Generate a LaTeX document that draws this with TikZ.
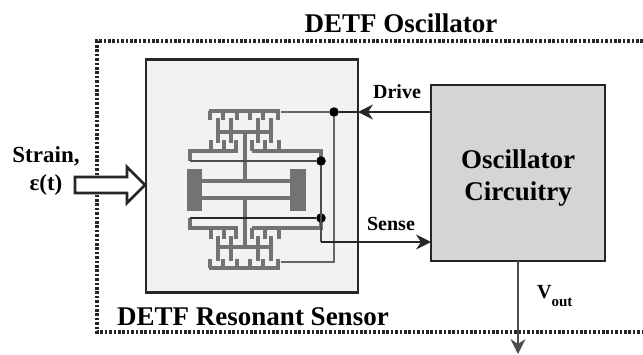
\documentclass[tikz,border=0pt]{standalone}
\usepackage{fontspec}
\setmainfont{Liberation Serif}
\usetikzlibrary{arrows.meta}
\tikzset{
    box/.style = {draw = black!85, line width = 2.7pt, inner sep = 0pt, outer sep = 0pt},
    wire/.style = {draw = black!85, line width = 1.8pt},
    comb/.style = {draw = black!55, line width = 3.2pt},
    tip/.style = {-{Stealth[length = 15pt, width = 15pt, inset = 5pt]}},
    dot/.style = {circle, fill = black, inner sep = 0pt, minimum size = 9.5pt},
    big/.style = {font = \bfseries\fontsize{27}{32}\selectfont, inner sep = 0pt},
    small/.style = {font = \bfseries\fontsize{20}{24}\selectfont, inner sep = 0pt}
}
\begin{document}
\begin{tikzpicture}[x = 1pt, y = -1pt]
    \useasboundingbox (0,0) rectangle (643,354);
    \draw [line width = 3.2pt, black!85, dash pattern = on 2.6pt off 1.8pt] (643,41) -- (97,41) -- (97,332) -- (643,332);

    \node [box, fill = gray!10, minimum width = 212pt, minimum height = 233pt] (sensor) at (252,176) {};
    \node [box, fill = gray!33, minimum width = 174pt, minimum height = 176pt] (circuit) at (518,173) {};
    \node [big, align = center, yshift = -5pt] (circuitlabel) at (circuit.center) {Oscillator\\Circuitry};

    %the two halves are the same, only flipped around the beams
    \foreach \m in {1, -1}{
        \begin{scope}[shift = {(0,189.5)}, yscale = \m]
            \draw [comb] (209,-78.5) -- (280,-78.5);
            \foreach \x in {210, 223, 237, 250, 263, 278}{
                \draw [comb] (\x,-78.5) -- (\x,-69.5);
            }
            \draw [comb] (217,-57.5) -- (272,-57.5);
            \foreach \x in {218, 231, 258, 271}{
                \draw [comb] (\x,-71.5) -- (\x,-46.5);
            }
            \foreach \x in {211, 224, 236, 252, 265, 279}{
                \draw [comb] (\x,-38.5) -- (\x,-49.5);
            }
            \draw [comb, line width = 4pt] (245,-57.5) -- (245,-8.5);
            \draw [comb, line width = 4pt] (202,-8.5) -- (290,-8.5);
            \draw [comb] (238,-38.5) -- (190,-38.5) -- (190,-28.5);
            \draw [comb] (252,-38.5) -- (321,-38.5) -- (321,-28.5);
        \end{scope}
    }
    \fill [black!55] (187,169) rectangle (202,211);
    \fill [black!55] (290,169) rectangle (306,211);

    \coordinate (combtop) at (281,112);
    \coordinate (combbottom) at (281,262);
    \coordinate (upperleft) at (190,161);
    \coordinate (lowerleft) at (190,218);
    \coordinate (sensecorner) at (321,242);
    \coordinate (voutend) at (518,354);
    \node [dot] (drivedot) at (334,112) {};
    \node [dot] (upperdot) at (321,161) {};
    \node [dot] (lowerdot) at (321,218) {};

    \draw [wire, black!60] (combtop) -- (drivedot) -- (drivedot |- combbottom) -- (combbottom);
    \draw [wire, black!70] (upperleft) -- (upperdot);
    \draw [wire, line width = 2.4pt] (lowerleft) -- (lowerdot);
    \draw [wire, black!70] (upperdot) -- (sensecorner);
    \draw [wire, tip] (circuit.west |- drivedot) -- (sensor.east |- drivedot);
    \draw [wire] (sensor.east |- drivedot) -- (drivedot);
    \draw [wire, tip] (sensecorner) -- (circuit.west |- sensecorner);
    \draw [wire, black!70, tip] (circuit.south) -- (voutend);

    \draw [fill = white, draw = black!85, line width = 2.6pt] (75,177) -- (127,177) -- (127,167) -- (145,185) -- (127,203) -- (127,193) -- (75,193) -- cycle;

    \node [big, anchor = base] (oscillatorlabel) at (401,32) {DETF Oscillator};
    \node [big, anchor = base] (sensorlabel) at (253,325) {DETF Resonant Sensor};
    \node [font = \bfseries\fontsize{23}{27}\selectfont, inner sep = 0pt, anchor = base] (strainlabel) at (46,162) {Strain,};
    \node [font = \bfseries\fontsize{23}{27}\selectfont, inner sep = 0pt, anchor = base] (epsilonlabel) at (46,190) {ε(t)};
    \node [small, anchor = base] (drivelabel) at (397,98) {Drive};
    \node [small, anchor = base] (senselabel) at (391,230) {Sense};
    \node [small, anchor = base west] (voutlabel) at (537,298) {V\raisebox{-8pt}{\fontsize{15}{15}\selectfont out}};
\end{tikzpicture}
\end{document}
